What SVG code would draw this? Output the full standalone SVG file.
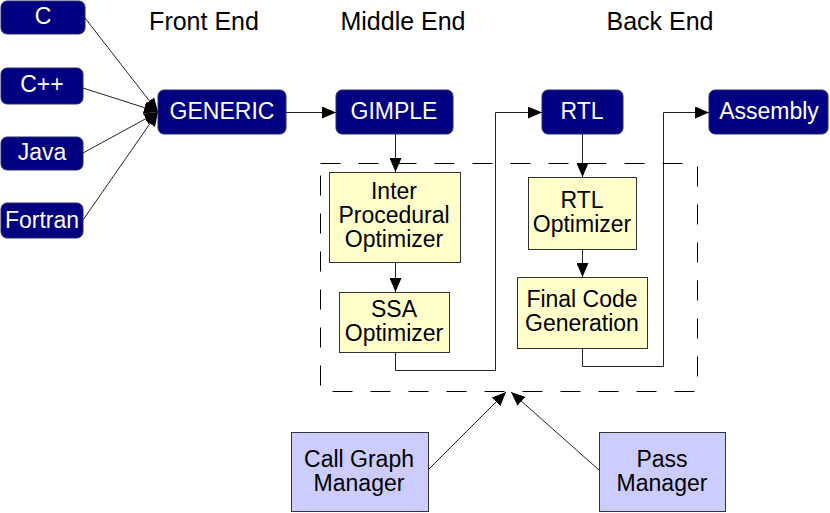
<svg xmlns="http://www.w3.org/2000/svg" width="830" height="513" viewBox="0 0 830 513">
<style>
.n rect{fill:#000080;stroke:#2a2a6a;stroke-width:1}
.n text{fill:#fff;font-family:"Liberation Sans",Arial,sans-serif;font-size:23px;text-anchor:middle}
.y rect{fill:#ffffcc;stroke:#333;stroke-width:1}
.p rect{fill:#ccccff;stroke:#333;stroke-width:1}
.y text,.p text,.t{fill:#000;font-family:"Liberation Sans",Arial,sans-serif;font-size:23px;text-anchor:middle}
.t{font-size:25px}
.c path,.c line{fill:none;stroke:#222;stroke-width:1}
</style>
<defs>
<marker id="a" markerWidth="14" markerHeight="12" refX="14" refY="6" orient="auto" markerUnits="userSpaceOnUse">
<path d="M0,0 L14,6 L0,12 Z" fill="#000"/>
</marker>
</defs>
<text class="t" x="204" y="30">Front End</text>
<text class="t" x="403" y="30">Middle End</text>
<text class="t" x="660" y="30">Back End</text>
<rect x="320.5" y="163.5" width="377" height="228" fill="none" stroke="#000" stroke-width="1" stroke-dasharray="20,18"/>
<g class="c">
<line x1="85" y1="18" x2="158" y2="112" marker-end="url(#a)"/>
<line x1="83" y1="88" x2="158" y2="112" marker-end="url(#a)"/>
<line x1="83" y1="153" x2="158" y2="112" marker-end="url(#a)"/>
<line x1="83" y1="220" x2="158" y2="112" marker-end="url(#a)"/>
<line x1="286" y1="112.5" x2="336" y2="112.5" marker-end="url(#a)"/>
<line x1="395.5" y1="134" x2="395.5" y2="172" marker-end="url(#a)"/>
<line x1="395.5" y1="262" x2="395.5" y2="292" marker-end="url(#a)"/>
<path d="M395.5,352 V370.5 H495.5 V112.5 H542" marker-end="url(#a)"/>
<line x1="582.5" y1="134" x2="582.5" y2="177" marker-end="url(#a)"/>
<line x1="582.5" y1="249" x2="582.5" y2="277" marker-end="url(#a)"/>
<path d="M582.5,348 V366.5 H663.5 V112.5 H709" marker-end="url(#a)"/>
<line x1="428" y1="470" x2="506" y2="392" marker-end="url(#a)"/>
<line x1="599" y1="470" x2="511" y2="392" marker-end="url(#a)"/>
</g>
<g id="c" class="n"><rect x="1" y="1" width="84" height="33" rx="6"/><text x="43" y="24">C</text></g>
<g id="cpp" class="n"><rect x="1" y="68" width="82" height="36" rx="6"/><text x="42" y="92">C++</text></g>
<g id="java" class="n"><rect x="1" y="137" width="82" height="33" rx="6"/><text x="42" y="160">Java</text></g>
<g id="fortran" class="n"><rect x="1" y="203" width="82" height="35" rx="6"/><text x="42" y="228">Fortran</text></g>
<g id="generic" class="n"><rect x="158" y="90" width="128" height="44" rx="6"/><text x="222" y="119">GENERIC</text></g>
<g id="gimple" class="n"><rect x="336" y="90" width="117" height="44" rx="6"/><text x="394" y="119">GIMPLE</text></g>
<g id="rtl" class="n"><rect x="542" y="90" width="81" height="44" rx="6"/><text x="582" y="119">RTL</text></g>
<g id="assembly" class="n"><rect x="709" y="90" width="119" height="44" rx="6"/><text x="769" y="119">Assembly</text></g>
<g id="ipo" class="y"><rect x="329.5" y="172.5" width="131" height="90"/><text x="394" y="199">Inter</text><text x="394" y="223">Procedural</text><text x="394" y="247">Optimizer</text></g>
<g id="ssa" class="y"><rect x="339.5" y="292.5" width="110" height="60"/><text x="394" y="317">SSA</text><text x="394" y="341">Optimizer</text></g>
<g id="rtlopt" class="y"><rect x="528.5" y="177.5" width="108" height="72"/><text x="582" y="208">RTL</text><text x="582" y="232">Optimizer</text></g>
<g id="final" class="y"><rect x="517.5" y="277.5" width="130" height="71"/><text x="582" y="307">Final Code</text><text x="582" y="331">Generation</text></g>
<g id="cgm" class="p"><rect x="291.5" y="432.5" width="137" height="79"/><text x="359" y="467">Call Graph</text><text x="359" y="491">Manager</text></g>
<g id="pm" class="p"><rect x="599.5" y="432.5" width="126" height="79"/><text x="662" y="467">Pass</text><text x="662" y="491">Manager</text></g>
</svg>
